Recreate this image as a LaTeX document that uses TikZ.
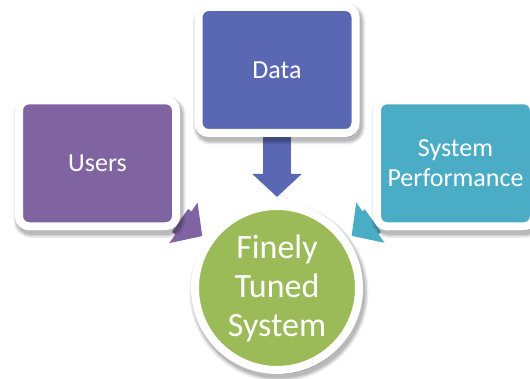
\documentclass[tikz,border=0pt]{standalone}
\usepackage{fontspec}
\setmainfont{Carlito}
\usetikzlibrary{arrows.meta}
\usetikzlibrary{shadows,backgrounds}
\definecolor{mypurple}{HTML}{8064A2}
\definecolor{myblue}{HTML}{5A68B3}
\definecolor{myteal}{HTML}{4BACC6}
\definecolor{mygreen}{HTML}{9BBB59}

\begin{document}
\begin{tikzpicture}[x=1pt,y=1pt,
		%% A soft shadow, made of a few grey rings on top of each other
		softshadow/.style={
			drop shadow={shadow xshift=2pt, shadow yshift=-4pt, opacity=.08, fill=black, draw=black, line width=15pt},
			drop shadow={shadow xshift=2pt, shadow yshift=-4pt, opacity=.1, fill=black, draw=black, line width=12pt},
			drop shadow={shadow xshift=2pt, shadow yshift=-4pt, opacity=.12, fill=black, draw=black, line width=9pt}},
		box/.style={rectangle, rounded corners=10pt, draw=white, line width=8pt, text=white, inner sep=0pt,
			minimum width=157pt, minimum height=126pt, align=center, font=\fontsize{26}{30}\selectfont, softshadow},
		flow/.style={line width=28pt, -{Triangle[length=23pt,width=48pt]}, shorten >=5pt}]
		%% The page is as large as the original picture, so the right box runs out of it
		\useasboundingbox (0,0) rectangle (530,379);
		%% The three boxes that feed the system
		\node[box, fill=myblue] (data) at (277,309) {Data};
		\node[box, fill=mypurple] (users) at (97.5,215.7) {Users};
		\node[box, fill=myteal] (perf) at (455.5,215.7) {System\\Performance};
		%% The circle in the middle, with the same white border
		\node[circle, draw=white, line width=8pt, fill=mygreen, text=white, inner sep=0pt, minimum size=164pt,
			align=center, font=\fontsize{34}{39}\selectfont, softshadow]
			(tuned) at (277,91) {Finely\\Tuned\\System};
		%% The block arrows go behind the boxes
		\begin{scope}[on background layer]
			\draw[flow, myblue] (data) -- (tuned);
			\draw[flow, mypurple] (users) -- (tuned);
			\draw[flow, myteal] (perf) -- (tuned);
		\end{scope}
		%\draw[help lines,step=10pt] (0,0) grid (530,379);
	\end{tikzpicture}
\end{document}
